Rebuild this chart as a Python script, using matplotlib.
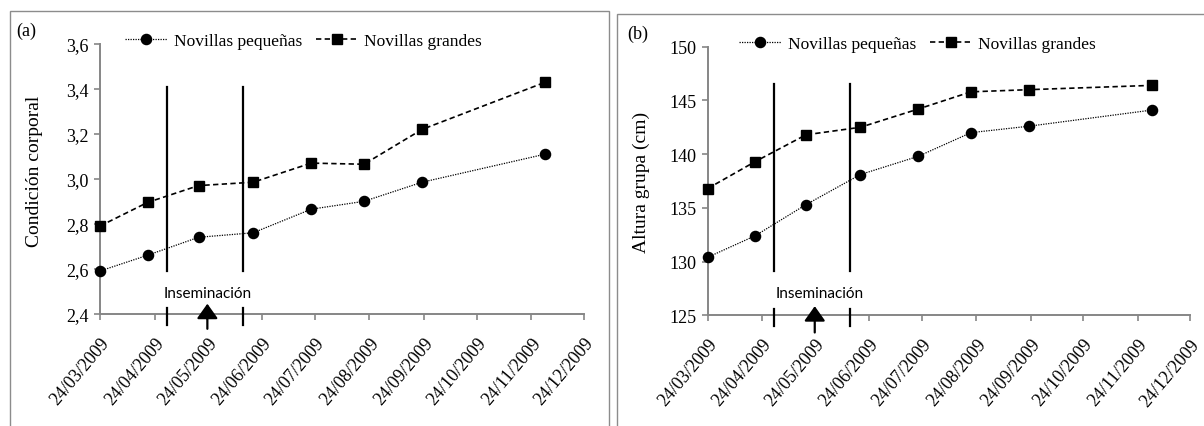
import matplotlib
matplotlib.use("Agg")
import matplotlib.pyplot as plt
import matplotlib.dates as mdates
import matplotlib.transforms as mtransforms
from matplotlib.patches import Rectangle, ArrowStyle
from matplotlib.lines import Line2D
import pandas as pd

# ---- data -------------------------------------------------------------
fechas = ["2009-03-24", "2009-04-20", "2009-05-19", "2009-06-19",
          "2009-07-22", "2009-08-21", "2009-09-23", "2009-12-02"]

cc_pequenas = [2.59, 2.66, 2.74, 2.76, 2.865, 2.90, 2.985, 3.11]
cc_grandes = [2.79, 2.895, 2.97, 2.985, 3.07, 3.065, 3.22, 3.43]

alt_pequenas = [130.4, 132.4, 135.3, 138.1, 139.8, 142.0, 142.6, 144.1]
alt_grandes = [136.8, 139.3, 141.8, 142.5, 144.2, 145.8, 146.0, 146.4]

ticks_fecha = ["24/03/2009", "24/04/2009", "24/05/2009", "24/06/2009",
               "24/07/2009", "24/08/2009", "24/09/2009", "24/10/2009",
               "24/11/2009", "24/12/2009"]

ticks_cc = [2.4, 2.6, 2.8, 3.0, 3.2, 3.4, 3.6]
ticks_alt = [125, 130, 135, 140, 145, 150]

periodo_inseminacion = ["2009-05-01", "2009-06-13"]
fecha_inseminacion = "2009-05-24"

series = ["Novillas pequeñas", "Novillas grandes"]

# ---- figure -----------------------------------------------------------
W, H = 1204, 427
fig = plt.figure(figsize=(W / 100, H / 100), dpi=100)
fig.patch.set_facecolor("white")

SERIF = ["Liberation Serif", "DejaVu Serif"]
SANS = ["Lato", "DejaVu Sans"]
AXIS_GRAY = "#868686"

x = mdates.date2num(pd.to_datetime(fechas))
xt = mdates.date2num(pd.to_datetime(ticks_fecha, dayfirst=True))
x_ins = mdates.date2num(pd.to_datetime(periodo_inseminacion))
x_arrow = mdates.date2num(pd.Timestamp(fecha_inseminacion))


def px_rect(left, top, right, bottom):
    return [left / W, 1 - bottom / H, (right - left) / W, (bottom - top) / H]


def frame(left, top, right, bottom):
    fig.add_artist(Rectangle((left / W, 1 - bottom / H), (right - left) / W,
                             (bottom - top) / H, transform=fig.transFigure,
                             fill=False, edgecolor="#8c8c8c", lw=1.0,
                             clip_on=False))


def panel(rect, y_small, y_large, ylim, yticks, ylabels, ylabel, ylabel_xy,
          letter, letter_xy, legend_xy, marks, text_dx_days):
    ax = fig.add_axes(rect)
    style_small = dict(color="black", lw=0.9, linestyle=(0, (1, 1)),
                       marker="o", markersize=7.3)
    style_large = dict(color="black", lw=1.2, linestyle=(0, (3.2, 2)),
                       marker="s", markersize=7.3)
    ax.plot(x, y_small, clip_on=False, zorder=4, **style_small)
    ax.plot(x, y_large, clip_on=False, zorder=4, **style_large)

    ax.set_xlim(xt[0], xt[-1])
    ax.set_ylim(*ylim)
    ax.set_xticks(xt)
    ax.set_xticklabels(ticks_fecha, rotation=50, ha="right", va="top",
                       rotation_mode="anchor", family=SERIF, fontsize=13)
    ax.set_yticks(yticks)
    ax.set_yticklabels(ylabels, family=SERIF, fontsize=13)

    for s in ("top", "right"):
        ax.spines[s].set_visible(False)
    for s in ("left", "bottom"):
        ax.spines[s].set_color(AXIS_GRAY)
        ax.spines[s].set_linewidth(1.4)
    ax.tick_params(axis="x", direction="out", length=4.5, width=1.2,
                   color=AXIS_GRAY, pad=10)
    ax.tick_params(axis="y", direction="out", length=4, width=1.2,
                   color=AXIS_GRAY, pad=4)

    # insemination window: vertical bars broken around the caption
    bt = mtransforms.blended_transform_factory(ax.transData, ax.transAxes)
    top, mid, low0, low1, tip, base, tail, ty = marks
    for d in x_ins:
        ax.plot([d, d], [mid, top], color="black", lw=1.6, transform=bt,
                clip_on=False, zorder=3)
        ax.plot([d, d], [low1, low0], color="black", lw=1.6, transform=bt,
                clip_on=False, zorder=3)
    ax.annotate("", xy=(x_arrow, tip), xytext=(x_arrow, tail),
                xycoords=bt, textcoords=bt, annotation_clip=False,
                arrowprops=dict(arrowstyle=ArrowStyle("-|>", head_length=0.45,
                                                      head_width=0.32),
                                mutation_scale=20, color="black", lw=1.6,
                                shrinkA=0, shrinkB=0))
    ax.text(x_arrow + text_dx_days, ty, "Inseminación",
            transform=bt, ha="center", va="center", family=SANS, fontsize=11)

    fig.text(ylabel_xy[0] / W, 1 - ylabel_xy[1] / H, ylabel, rotation=90,
             ha="center", va="center", family=SERIF, fontsize=14)
    fig.text(letter_xy[0] / W, 1 - letter_xy[1] / H, letter,
             ha="left", va="center", family=SERIF, fontsize=13)

    handles = [Line2D([], [], **style_small), Line2D([], [], **style_large)]
    ax.legend(handles, series, ncol=2, loc="center left",
              bbox_to_anchor=(legend_xy[0] / W, 1 - legend_xy[1] / H),
              bbox_transform=fig.transFigure, frameon=False,
              prop=dict(family=SERIF, size=12.5), handlelength=2.4,
              handletextpad=0.4, columnspacing=0.8, borderpad=0,
              borderaxespad=0)
    return ax


frame(10, 11.7, 608.5, H + 10)
frame(617, 15, W + 10, H + 10)

panel(px_rect(100, 45, 584, 314.7), cc_pequenas, cc_grandes, (2.4, 3.6),
      ticks_cc, [f"{v:.1f}".replace(".", ",") for v in ticks_cc],
      "Condición corporal", (35, 171), "(a)", (16, 31), (125, 41.7),
      (0.842, 0.158, 0.021, -0.042, 0.037, -0.010, -0.056, 0.076), 0)

panel(px_rect(707.7, 47.7, 1190.3, 316.3), alt_pequenas, alt_grandes,
      (125, 150), ticks_alt, [str(v) for v in ticks_alt],
      "Altura grupa (cm)", (641, 182), "(b)", (627, 34), (739, 45),
      (0.86, 0.164, 0.024, -0.038, 0.034, -0.016, -0.064, 0.084), 3)

fig.savefig("out.png", dpi=100, facecolor="white")
